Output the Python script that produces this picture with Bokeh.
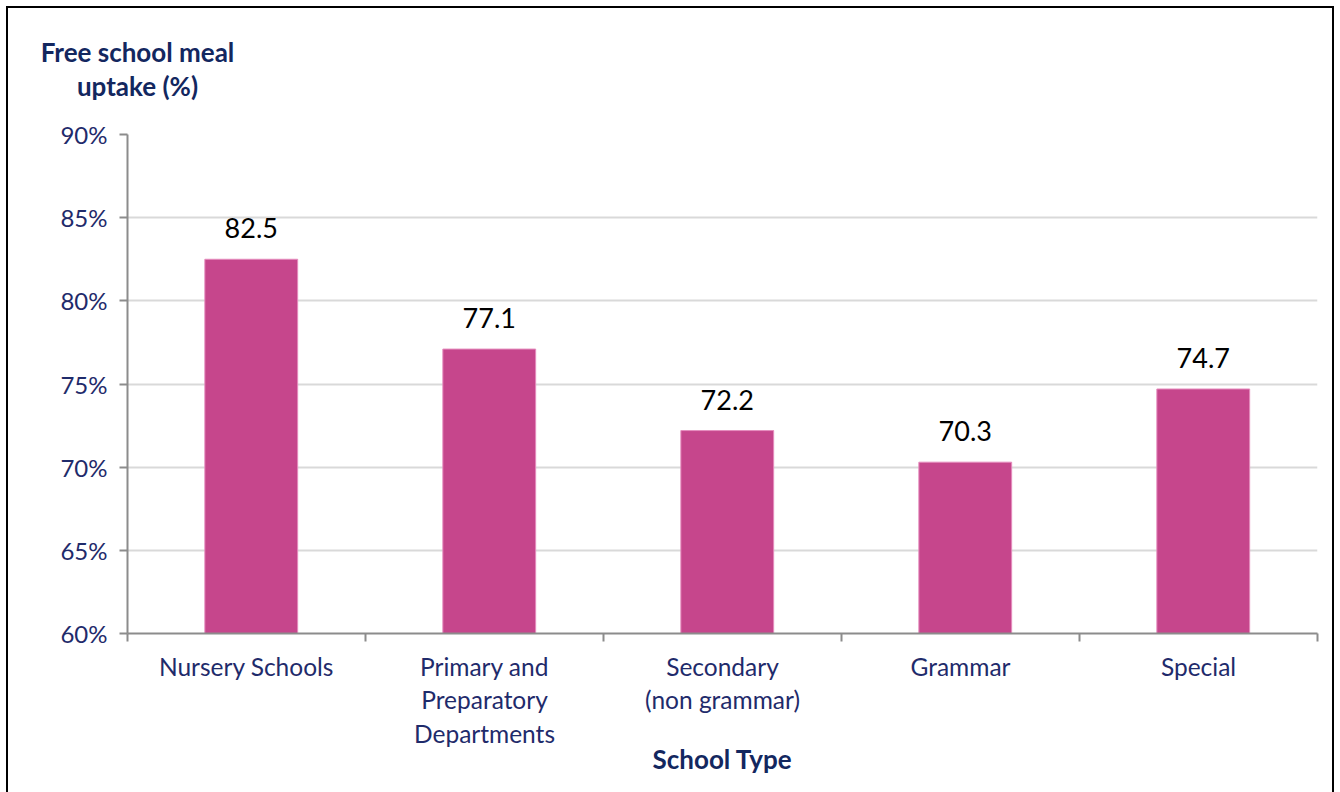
from bokeh.plotting import figure
from bokeh.models import ColumnDataSource, FixedTicker, Range1d, LinearAxis
from bokeh.core.properties import value
from bokeh.embed import file_html
from bokeh.resources import INLINE

categories = ["Nursery Schools", "Primary and\nPreparatory\nDepartments",
              "Secondary\n(non grammar)", "Grammar", "Special"]
uptake = [82.5, 77.1, 72.2, 70.3, 74.7]
y_ticks = [60, 65, 70, 75, 80, 85, 90]
y_tick_labels = ["60%", "65%", "70%", "75%", "80%", "85%", "90%"]
y_title = "Free school meal\nuptake (%)"
x_title = "School Type"

NAVY = "#1F2B6B"
TITLE_NAVY = "#13275F"
FONT = "Lato"

xs = [i + 0.52 for i in range(len(categories))]
src = ColumnDataSource(dict(x=xs, top=uptake, lab=[f"{v:.1f}" for v in uptake]))

p = figure(width=1340, height=792, output_backend="svg", toolbar_location=None,
           x_range=Range1d(0, len(categories)), y_range=Range1d(60, 90),
           min_border_left=127, min_border_right=23, min_border_top=134,
           min_border_bottom=159, x_axis_type=None)
# thin black frame around the whole chart (drawn as host background lines)
p.styles = {
    "background-color": "white",
    "background-image": "linear-gradient(#000,#000), linear-gradient(#000,#000), linear-gradient(#000,#000)",
    "background-size": "2px 100%, 2px 100%, 1328px 2px",
    "background-position": "6px 6px, 1332px 6px, 6px 6px",
    "background-repeat": "no-repeat",
}
p.outline_line_color = None
p.background_fill_color = None
p.border_fill_color = None

p.vbar(x="x", top="top", bottom=60, width=0.39, source=src,
       fill_color="#C6468C", line_color="#E58CBD", line_width=1)

p.text(x="x", y="top", text="lab", source=src, text_align="center",
       text_baseline="middle", y_offset=-31, text_font=value(FONT),
       text_font_size="27px", text_color="black")

# grid
p.xgrid.visible = False
p.ygrid.ticker = FixedTicker(ticks=y_ticks[1:])
p.ygrid.grid_line_color = "#D9D9D9"
p.ygrid.grid_line_width = 2

# y axis
ya = p.yaxis[0]
ya.ticker = FixedTicker(ticks=y_ticks)
ya.major_label_overrides = {t: l for t, l in zip(y_ticks, y_tick_labels)}
ya.major_label_text_font = FONT
ya.major_label_text_font_size = "24px"
ya.major_label_text_color = NAVY
ya.major_label_standoff = 12
ya.axis_line_color = "#8C8C8C"
ya.axis_line_width = 2
ya.major_tick_line_color = "#8C8C8C"
ya.major_tick_line_width = 2
ya.major_tick_out = 8
ya.major_tick_in = 0
ya.minor_tick_line_color = None

# x axis
xa = LinearAxis()
xa.ticker = FixedTicker(ticks=[i + 0.5 for i in range(len(categories))],
                        minor_ticks=list(range(len(categories) + 1)))
xa.major_label_overrides = {i + 0.5: c for i, c in enumerate(categories)}
xa.major_label_text_font = FONT
xa.major_label_text_font_size = "24.5px"
xa.major_label_text_color = NAVY
xa.major_label_text_line_height = 1.17
xa.major_label_standoff = 10
xa.major_tick_out = 0
xa.major_tick_in = 0
xa.minor_tick_out = 8
xa.minor_tick_in = 0
xa.minor_tick_line_color = "#8C8C8C"
xa.minor_tick_line_width = 2
xa.axis_line_color = "#8C8C8C"
xa.axis_line_width = 2
xa.axis_label = x_title
xa.axis_label_text_font = FONT
xa.axis_label_text_font_style = "bold"
xa.axis_label_text_font_size = "26px"
xa.axis_label_text_color = TITLE_NAVY
xa.axis_label_standoff = -8
p.add_layout(xa, "below")

# value-axis title: two centred lines at the top-left, drawn as the label of
# a bare axis above the plot
ta = LinearAxis()
ta.ticker = FixedTicker(ticks=[0.042], minor_ticks=[])
ta.major_label_overrides = {0.042: y_title}
ta.major_label_text_font = FONT
ta.major_label_text_font_style = "bold"
ta.major_label_text_font_size = "26px"
ta.major_label_text_color = TITLE_NAVY
ta.major_label_text_line_height = 1.06
ta.major_label_standoff = 33
ta.axis_line_color = None
ta.major_tick_line_color = None
ta.minor_tick_line_color = None
ta.major_tick_out = 0
ta.major_tick_in = 0
p.add_layout(ta, "above")

open("out.html", "w").write(file_html(p, INLINE))
